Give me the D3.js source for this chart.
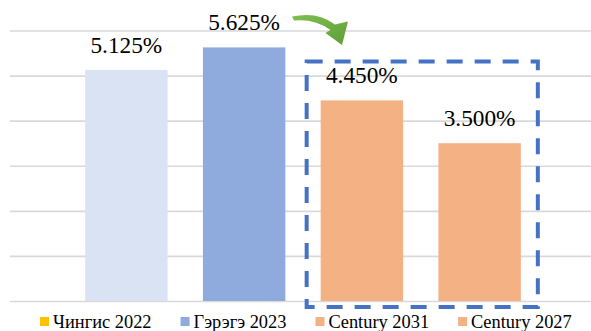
<!DOCTYPE html>
<html>
<head>
<meta charset="utf-8">
<script src="https://cdn.jsdelivr.net/npm/d3@7/dist/d3.min.js"></script>
<style>
  html, body { margin: 0; padding: 0; background: #fff; }
  svg { display: block; }
  svg text { font-family: "Liberation Serif", serif; }
</style>
</head>
<body>
<svg id="chart" width="591" height="331"></svg>
<script>
// Interest rates by bond issue (%)
const categories = ["Чингис 2022", "Гэрэгэ 2023", "Century 2031", "Century 2027"];
const rates = [5.125, 5.625, 4.450, 3.500];
const barColors = ["#DAE3F3", "#8FAADC", "#F4B183", "#F4B183"];

// Legend entries as shown under the plot
const legendLabels = ["Чингис 2022", "Гэрэгэ 2023", "Century 2031", "Century 2027"];
const legendColors = ["#FFC000", "#8FAADC", "#F4B183", "#F4B183"];

const yTicks = [0, 1, 2, 3, 4, 5, 6];

const FONT = "Liberation Serif";

const svg = d3.select("#chart");
const W = 591;

const x = d3.scaleBand()
  .domain(categories)
  .range([67.5, 538.5])
  .paddingInner(0.3)
  .paddingOuter(0.15);

const y = d3.scaleLinear()
  .domain([0, 6])
  .range([301, 30.5]);

// Horizontal gridlines
const grid = svg.append("g")
  .attr("transform", "translate(10,0)")
  .call(d3.axisLeft(y).tickValues(yTicks).tickSize(-(W - 10)).tickFormat(""));
grid.select(".domain").remove();
grid.selectAll(".tick line").attr("stroke", "#D9D9D9").attr("stroke-width", 1.6);

// Bars
svg.append("g").selectAll("rect")
  .data(categories)
  .join("rect")
  .attr("x", d => x(d))
  .attr("width", x.bandwidth())
  .attr("y", (d, i) => y(rates[i]))
  .attr("height", (d, i) => y(0) - y(rates[i]))
  .attr("fill", (d, i) => barColors[i]);

// Value labels
svg.append("g").selectAll("text")
  .data(categories)
  .join("text")
  .attr("x", d => x(d) + x.bandwidth() / 2)
  .attr("y", (d, i) => y(rates[i]) - 17)
  .attr("text-anchor", "middle")
  .style("font-family", FONT)
  .style("font-size", "23.3px")
  .attr("fill", "#000")
  .text((d, i) => rates[i].toFixed(3) + "%");

// Dashed frame around the Century issues
const c0 = x(categories[2]);
const c1 = x(categories[3]) + x.bandwidth();
svg.append("rect")
  .attr("x", c0 - 14)
  .attr("y", y(rates[2]) - 39)
  .attr("width", (c1 + 17) - (c0 - 14))
  .attr("height", y(0) + 6 - (y(rates[2]) - 39))
  .attr("fill", "none")
  .attr("stroke", "#4472C4")
  .attr("stroke-width", 4)
  .attr("stroke-dasharray", "16 12");

// Curved green arrow
const arrowGrad = svg.append("defs").append("linearGradient")
  .attr("id", "arrowFill")
  .attr("x1", "0").attr("y1", "0").attr("x2", "1").attr("y2", "1");
arrowGrad.append("stop").attr("offset", "0").attr("stop-color", "#7FBF4F");
arrowGrad.append("stop").attr("offset", "1").attr("stop-color", "#5E9E38");

svg.append("path")
  .attr("d", "M292,16.5 Q318,11 335,24.5 L348,21.5 L342,45 L325.5,33 L330.5,30 Q315,18.5 294,20.5 Z")
  .attr("fill", "url(#arrowFill)");

// Legend
const legend = svg.append("g").attr("transform", "translate(0,328)");
let lx = 40;
legendLabels.forEach((label, i) => {
  const item = legend.append("g").attr("transform", `translate(${lx},0)`);
  item.append("rect")
    .attr("x", 0).attr("y", -11)
    .attr("width", 9).attr("height", 9)
    .attr("fill", legendColors[i]);
  const t = item.append("text")
    .attr("x", 13).attr("y", 0)
    .style("font-family", FONT)
    .style("font-size", "18.4px")
    .attr("fill", "#000")
    .text(label);
  lx += 13 + t.node().getComputedTextLength() + 29;
});
</script>
</body>
</html>
